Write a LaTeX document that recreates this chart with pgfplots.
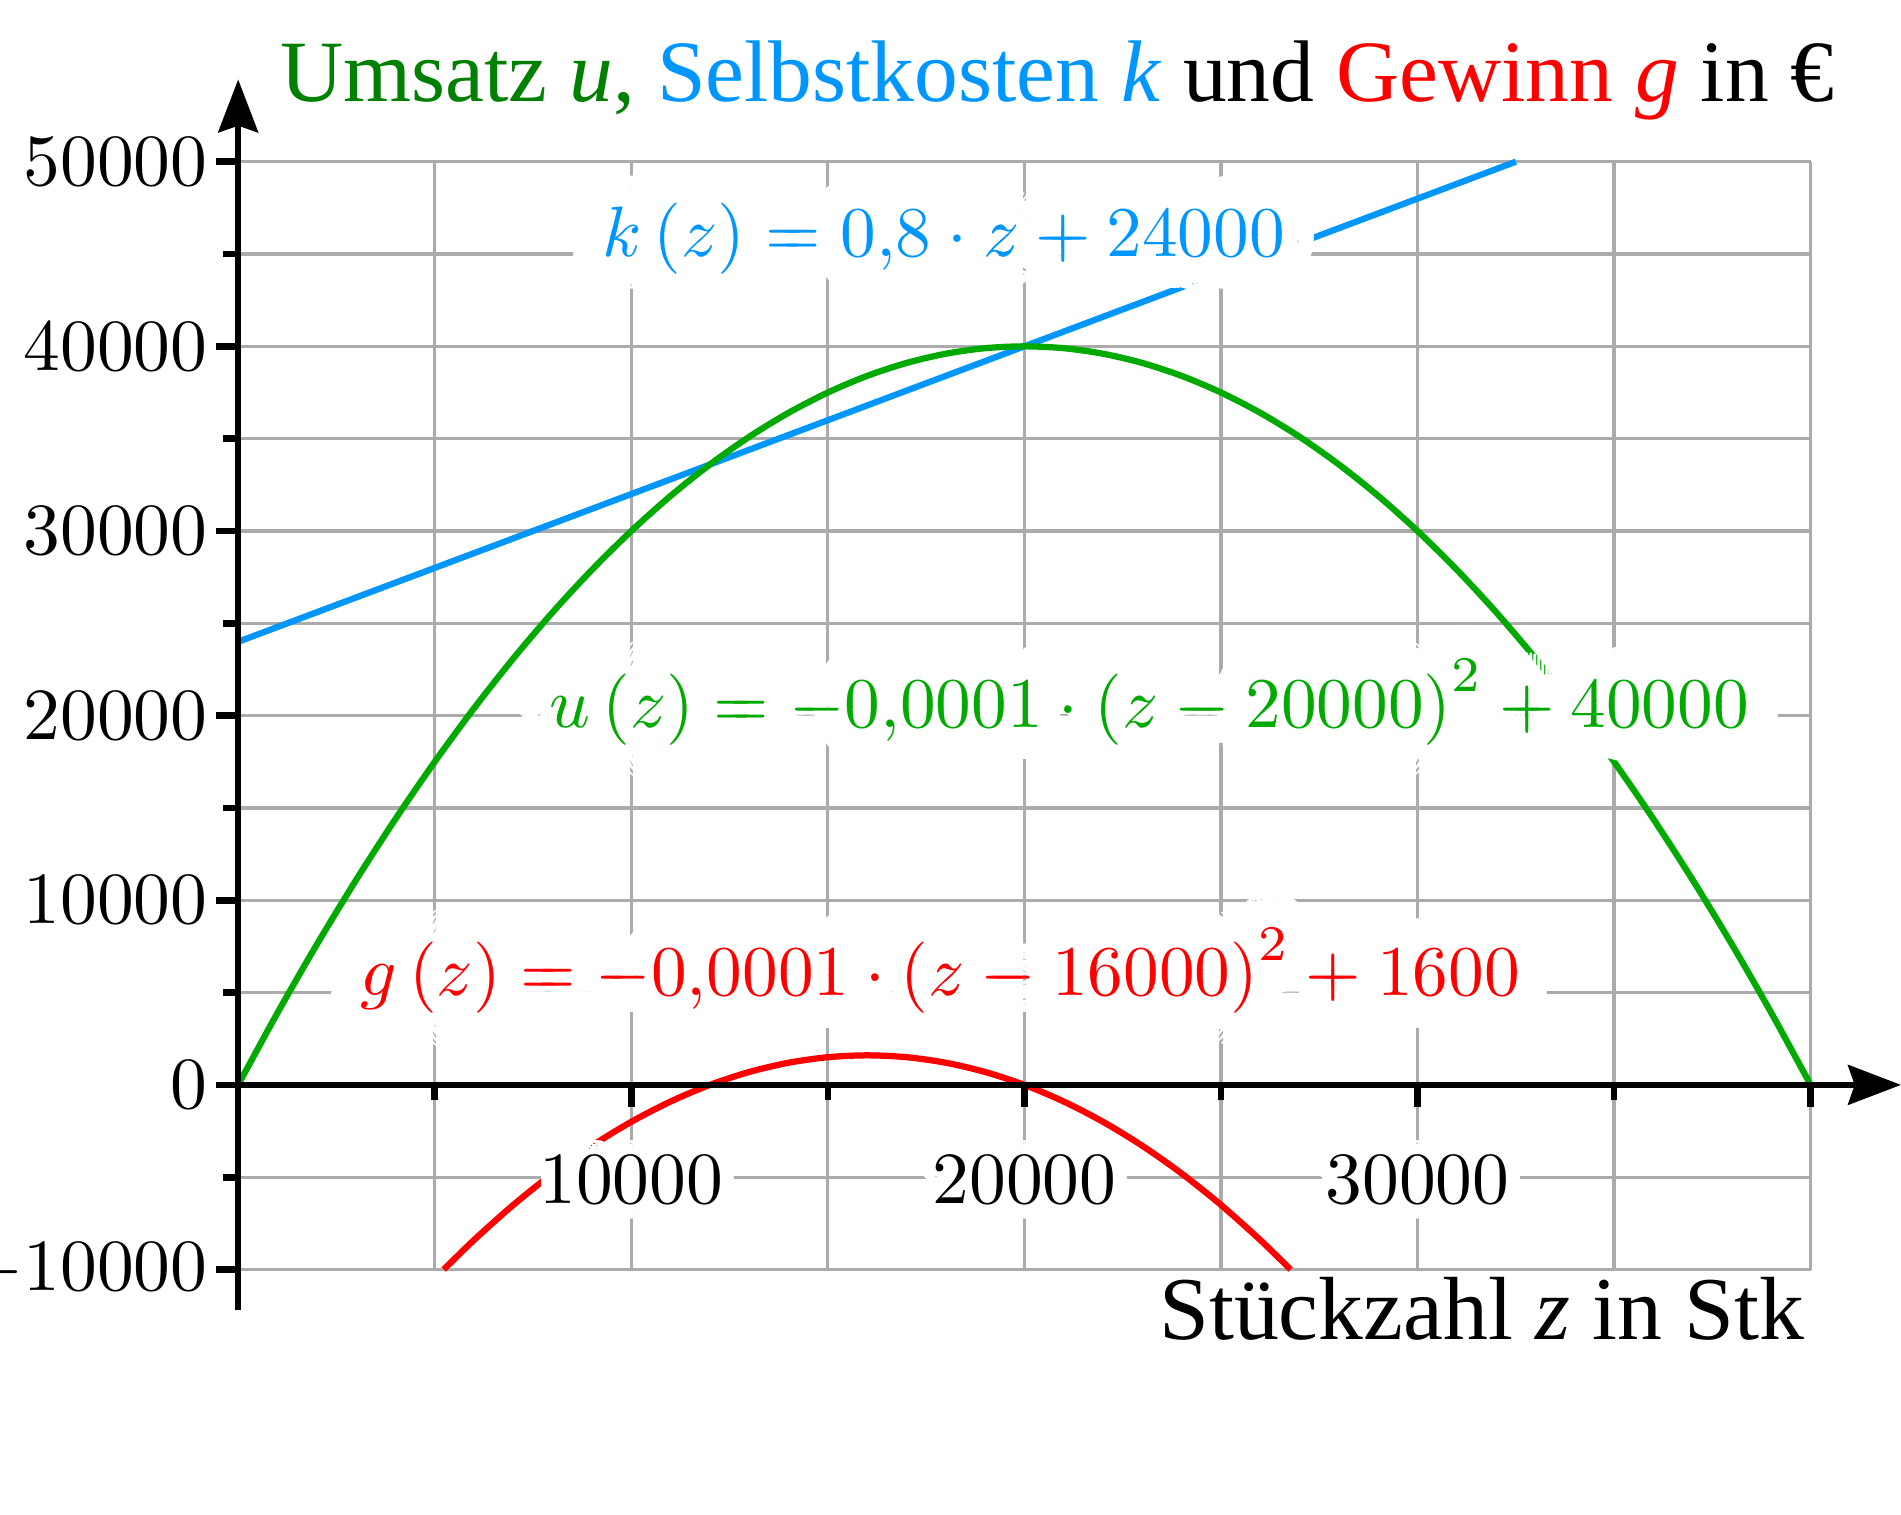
\documentclass[border=0pt]{standalone}
\usepackage[no-math]{fontspec}
\setmainfont{Liberation Serif}
\usepackage{pgfplots}
\pgfplotsset{compat=1.18}
\usetikzlibrary{arrows.meta}
\usepackage[copies]{contour}
\contourlength{4.6pt}
\contournumber{48}
\newcommand\bighalo[1]{\rlap{\contourlength{2.3pt}\contournumber{24}\contour{white}{#1}}\contour{white}{#1}}
\newcommand\smallhalo[1]{{\contourlength{1.9pt}\contournumber{24}\contour{white}{#1}}}
\definecolor{kblue}{RGB}{0,150,255}
\definecolor{ugreen}{RGB}{0,170,0}
\definecolor{tgreen}{RGB}{0,128,0}
\definecolor{gred}{RGB}{255,0,0}
\definecolor{gridgray}{RGB}{171,171,171}
\pgfplotsset{
  layers/mylayers/.define layer set={axis background,axis grid,main,axis ticks,axis lines,axis tick labels,axis descriptions,axis foreground}{/pgfplots/layers/standard},
}
\begin{document}
\begin{tikzpicture}[trim left=-32.4pt, trim right=226.2pt]
\begin{axis}[
  at={(0pt,0pt)}, anchor=origin,
  scale only axis, width=213.9pt, height=150.7pt,
  xmin=0, xmax=40000, ymin=-10000, ymax=50000,
  axis lines=middle,
  set layers=mylayers,
  clip=false,
  scaled ticks=false,
  /pgf/number format/1000 sep={},
  hide obscured x ticks=false,
  hide obscured y ticks=false,
  xtick={10000,20000,30000,40000},
  xticklabels={\smallhalo{$10000$},\smallhalo{$20000$},\smallhalo{$30000$},{}},
  minor xtick={5000,15000,25000,35000},
  ytick={-10000,0,10000,20000,30000,40000,50000},
  minor ytick={-5000,5000,15000,25000,35000,45000},
  grid=both,
  major grid style={line width=0.45pt, gridgray},
  minor grid style={line width=0.45pt, gridgray},
  tick align=outside,
  major tick length=3pt,
  minor tick length=2.1pt,
  tick style={line width=0.9pt, black},
  axis line style={line width=0.8pt, black},
  x axis line style={-{Stealth[length=7.2pt,width=5.4pt,inset=0.9pt]}, shorten >=-12.3pt},
  y axis line style={-{Stealth[length=7.2pt,width=5.4pt,inset=0.9pt]}, shorten >=-11.2pt, shorten <=-5.5pt},
  yticklabel style={anchor=east, inner sep=0pt, xshift=-1.0pt},
  xticklabel style={anchor=center, inner sep=0pt, yshift=-10.85pt},
]
\addplot[kblue, line width=0.85pt] coordinates {(0,24000) (32500,50000)};
\addplot[ugreen, line width=0.85pt, smooth] coordinates {
(0,0) (1000,3900) (2000,7600) (3000,11100) (4000,14400) (5000,17500)
(6000,20400) (7000,23100) (8000,25600) (9000,27900) (10000,30000)
(11000,31900) (12000,33600) (13000,35100) (14000,36400) (15000,37500)
(16000,38400) (17000,39100) (18000,39600) (19000,39900) (20000,40000)
(21000,39900) (22000,39600) (23000,39100) (24000,38400) (25000,37500)
(26000,36400) (27000,35100) (28000,33600) (29000,31900) (30000,30000)
(31000,27900) (32000,25600) (33000,23100) (34000,20400) (35000,17500)
(36000,14400) (37000,11100) (38000,7600) (39000,3900) (40000,0)};
\addplot[gred, line width=0.85pt, smooth] coordinates {
(5230,-10000) (6000,-8400) (7000,-6500) (8000,-4800) (9000,-3300)
(10000,-2000) (11000,-900) (12000,0) (13000,700) (14000,1200)
(15000,1500) (16000,1600) (17000,1500) (18000,1200) (19000,700)
(20000,0) (21000,-900) (22000,-2000) (23000,-3300) (24000,-4800)
(25000,-6500) (26000,-8400) (26770,-10000)};
\node[text=kblue, anchor=base, inner sep=0pt, scale=0.97, transform shape] at (axis cs:17943,44885)
  {\bighalo{$k\left(z\right)=0{,}8\cdot z+24000$}};
\node[text=ugreen, anchor=base, inner sep=0pt, scale=0.97, transform shape] at (axis cs:23179,19383)
  {\bighalo{$u\left(z\right)=-0{,}0001\cdot\left(z-20000\right)^2+40000$}};
\node[text=gred, anchor=base, inner sep=0pt, scale=0.97, transform shape] at (axis cs:17859,4819)
  {\bighalo{$g\left(z\right)=-0{,}0001\cdot\left(z-16000\right)^2+1600$}};
\node[anchor=base, inner sep=0pt, font=\fontsize{11.9pt}{14pt}\selectfont] at (axis cs:20841,53234)
  {{\color{tgreen}Umsatz \textit{u},} {\color{kblue}Selbstkosten \textit{k}} und {\color{gred}Gewinn \textit{g}} in €};
\node[anchor=base, inner sep=0pt, font=\fontsize{12.2pt}{15pt}\selectfont] at (axis cs:31640,-13806)
  {Stückzahl \textit{z} in Stk};
\path (axis cs:-6059,-23288) rectangle (axis cs:42300,58758);
\end{axis}
\end{tikzpicture}
\end{document}
